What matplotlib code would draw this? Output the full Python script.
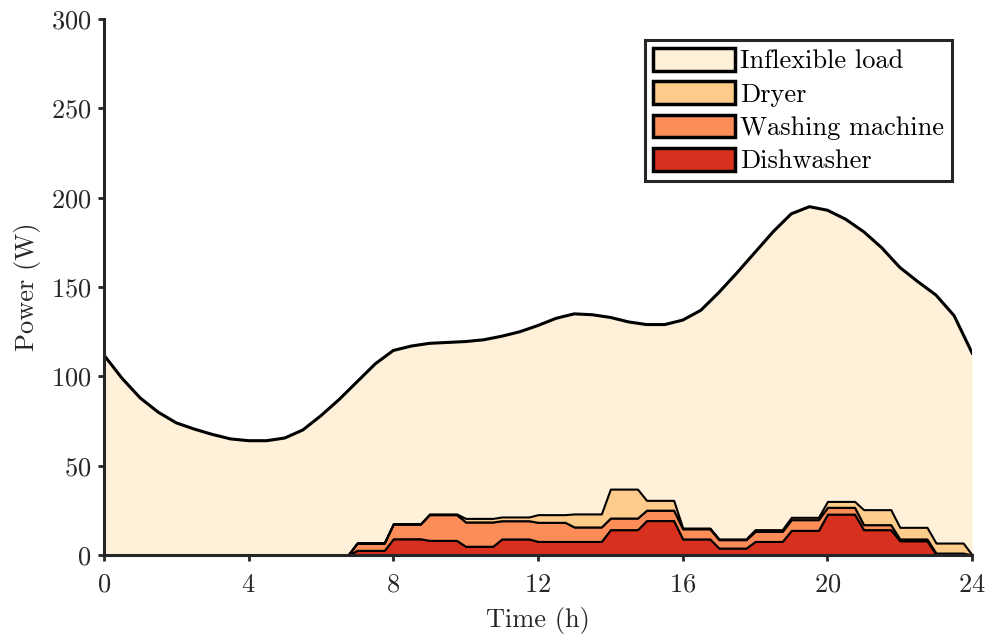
import numpy as np
import matplotlib.pyplot as plt
from matplotlib.patches import Patch

plt.rcParams['font.family'] = 'serif'
plt.rcParams['font.serif'] = ['cmr10']
plt.rcParams['mathtext.fontset'] = 'cm'
plt.rcParams['axes.unicode_minus'] = False
plt.rcParams['axes.formatter.use_mathtext'] = True

# inflexible load, half-hourly
t_load = np.arange(0, 24.5, 0.5)
inflexible = [112, 99, 88, 80, 74, 70.5, 67.5, 65, 64, 64, 65.5, 70, 78, 87, 97,
              107, 114.5, 117, 118.5, 119, 119.5, 120.5, 122.5, 125, 128.5,
              132.5, 135, 134.5, 133, 130.5, 129, 129, 131.5, 137, 147, 158,
              169.5, 181, 191, 195, 193, 188, 181, 172, 161, 153, 145.5, 134, 113]

# flexible appliances, hourly schedule (hour 0 .. 23)
hours = np.arange(24)
dishwasher = [0, 0, 0, 0, 0, 0, 0, 2.6, 9.1, 8.2, 4.9, 9.0, 7.6, 7.6,
              14.2, 19.3, 9.0, 3.9, 7.6, 13.8, 22.9, 14.2, 8.0, 0.5]
washing = [0, 0, 0, 0, 0, 0, 0, 4.1, 8.3, 14.4, 13.6, 10.2, 10.7, 8.1,
           6.5, 5.8, 5.7, 4.7, 5.6, 6.0, 3.8, 2.8, 1.0, 0.6]
dryer = [0, 0, 0, 0, 0, 0, 0, 0, 0, 0.4, 2.0, 2.1, 4.3, 7.3,
         16.2, 5.5, 0.4, 0.4, 1.0, 1.3, 3.3, 8.4, 6.5, 5.6]

colors = ['#fef0d9', '#fdcc8a', '#fc8d59', '#d7301f']
labels = ['Inflexible load', 'Dryer', 'Washing machine', 'Dishwasher']

# each hourly value holds for 45 min, then ramps to the next one
t_step = np.append(np.column_stack([hours, hours + 0.75]).ravel(), 24)


def stepped(v):
    return np.append(np.repeat(v, 2), 0)


fig = plt.figure(figsize=(9.89, 6.37), dpi=100)
ax = fig.add_axes([0.105, 0.1287, 0.878, 0.8413])

ax.fill_between(t_load, 0, inflexible, color=colors[0], lw=0)
ax.plot(t_load, inflexible, color='black', lw=2.2, solid_joinstyle='round')
ax.stackplot(t_step, stepped(dishwasher), stepped(washing), stepped(dryer),
             colors=[colors[3], colors[2], colors[1]],
             edgecolor='black', lw=1.5)

ax.set_xlim(0, 24)
ax.set_ylim(0, 300)
ax.set_xticks(range(0, 25, 4))
ax.set_yticks(range(0, 301, 50))
ax.set_xlabel('Time (h)', fontsize=19, color='#262626', labelpad=7)
ax.set_ylabel('Power (W)', fontsize=19, color='#262626', labelpad=7)

for side in ['top', 'right']:
    ax.spines[side].set_visible(False)
for side in ['left', 'bottom']:
    ax.spines[side].set_linewidth(2.2)
    ax.spines[side].set_color('#262626')
ax.tick_params(direction='out', length=4, width=2.0, colors='#262626',
               labelsize=19)
ax.tick_params(axis='x', pad=9)
ax.tick_params(axis='y', pad=5)

handles = [Patch(facecolor=c, edgecolor='black', lw=2.5, joinstyle='round')
           for c in colors]
leg = ax.legend(handles, labels, loc='upper right',
                bbox_to_anchor=(952 / 989, 1 - 40 / 637),
                bbox_transform=fig.transFigure, borderaxespad=0,
                fontsize=19, frameon=True, fancybox=False,
                handlelength=3.1, handleheight=0.95, handletextpad=0.2,
                labelspacing=0.3, borderpad=0.3)
leg.get_frame().set_edgecolor('#262626')
leg.get_frame().set_linewidth(2.2)
leg.get_frame().set_alpha(1)

fig.savefig('out.png', dpi=100)
